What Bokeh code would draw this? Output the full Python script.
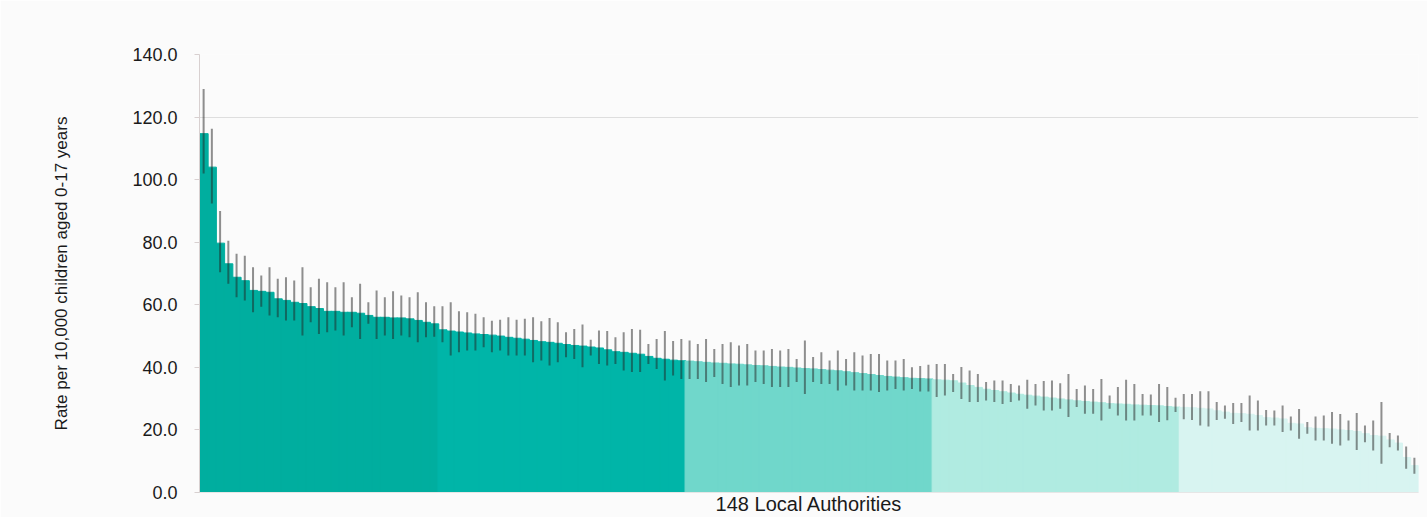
from bokeh.plotting import figure
from bokeh.models import ColumnDataSource, FixedTicker, NumeralTickFormatter, Range1d
from bokeh.embed import file_html
from bokeh.resources import INLINE

# Rate per 10,000 children aged 0-17, 148 local authorities (sorted)
rates = [
    114.7, 104.0, 79.7, 73.1, 68.8, 67.7, 64.6, 64.3, 64.0, 61.9, 61.4, 60.8, 60.4, 59.4, 58.8,
    57.9, 57.9, 57.6, 57.6, 57.3, 56.6, 56.0, 56.0, 55.8, 55.8, 55.5, 55.0, 54.4, 53.9,
    52.0, 51.6, 51.3, 51.0, 50.7, 50.5, 50.3, 50.0, 49.6, 49.3, 49.0, 48.6, 48.2, 48.0, 47.7,
    47.3, 47.0, 46.8, 46.5, 46.2, 45.6, 45.0, 44.8, 44.5, 44.2, 43.5, 42.9, 42.6, 42.3, 42.1,
    42.0, 41.8, 41.6, 41.4, 41.3, 41.1, 41.0, 40.8, 40.6, 40.5, 40.3, 40.1, 40.0, 39.8, 39.6,
    39.5, 39.3, 39.1, 38.9, 38.6, 38.3, 38.0, 37.7, 37.4, 37.1, 36.9, 36.7, 36.5, 36.4, 36.3,
    36.0, 35.9, 35.7, 35.0, 34.2, 33.6, 33.0, 32.6, 32.2, 31.8, 31.4, 31.1, 30.8, 30.5, 30.2,
    29.9, 29.6, 29.3, 29.1, 28.9, 28.7, 28.4, 28.3, 28.2, 28.0, 27.9, 27.8, 27.7, 27.5, 27.3,
    27.2, 27.1, 26.9, 26.7, 26.1, 25.7, 25.3, 25.2, 25.0, 24.6, 23.9, 23.8, 23.5, 22.1, 21.9,
    20.7, 20.5, 20.4, 20.3, 20.0, 19.8, 19.5, 18.8, 18.2, 18.0, 16.8, 15.8, 11.2, 8.6,
]
upper = [
    129.0, 116.3, 90.0, 80.5, 76.3, 75.7, 72.0, 69.4, 72.0, 68.3, 68.8, 67.8, 72.0, 65.6, 68.3,
    67.2, 65.6, 67.2, 62.4, 66.7, 60.8, 64.6, 62.4, 64.3, 63.0, 62.4, 64.0, 60.8, 59.5,
    59.5, 60.8, 57.9, 57.6, 57.1, 56.0, 54.9, 55.2, 56.0, 55.2, 55.5, 56.0, 54.7, 55.8, 54.4,
    51.2, 52.3, 53.7, 48.8, 51.8, 51.6, 49.6, 51.2, 52.3, 52.0, 47.5, 49.1, 51.6, 48.4, 49.1,
    48.6, 47.5, 49.1, 45.9, 47.5, 48.0, 47.0, 47.5, 45.4, 45.4, 45.9, 45.4, 45.9, 42.7, 48.6,
    43.3, 44.8, 42.2, 45.4, 42.7, 44.8, 43.8, 44.3, 44.3, 42.2, 42.2, 42.7, 40.0, 40.4, 40.8,
    41.1, 41.1, 37.9, 40.1, 39.0, 37.9, 35.3, 35.8, 35.8, 34.7, 34.2, 36.0, 34.7, 35.6, 35.8,
    34.9, 37.9, 33.1, 34.2, 33.1, 36.3, 31.0, 33.7, 36.0, 34.7, 31.5, 31.3, 34.7, 33.7, 30.3,
    31.5, 31.5, 32.4, 32.4, 28.9, 27.8, 28.6, 28.6, 31.0, 29.4, 26.4, 26.2, 27.8, 24.3, 26.7,
    22.5, 24.3, 24.6, 25.7, 25.1, 23.0, 25.4, 21.4, 23.0, 28.9, 19.0, 18.2, 14.7, 11.1,
]
lower = [
    102.0, 92.4, 70.4, 66.7, 62.4, 61.4, 57.6, 59.4, 56.6, 56.0, 55.0, 55.0, 50.2, 54.4, 50.7,
    51.2, 51.8, 50.2, 52.8, 49.1, 53.9, 49.1, 50.2, 49.1, 50.2, 49.6, 48.0, 49.6, 49.8,
    48.0, 43.8, 44.8, 45.4, 45.4, 46.4, 44.8, 45.4, 43.8, 43.8, 43.8, 41.6, 42.2, 40.6, 41.6,
    43.2, 42.7, 40.0, 43.8, 41.1, 40.6, 41.1, 39.0, 38.5, 38.5, 41.1, 39.5, 35.8, 37.4, 36.3,
    36.3, 36.3, 35.3, 36.9, 34.7, 33.7, 34.2, 34.2, 35.3, 34.7, 33.7, 33.7, 33.7, 35.3, 31.5,
    35.3, 34.7, 34.7, 32.6, 34.2, 32.6, 32.6, 32.6, 32.1, 32.6, 33.1, 32.6, 33.1, 32.3, 32.3,
    30.5, 31.0, 32.1, 29.9, 28.9, 28.9, 29.4, 28.9, 28.3, 28.9, 29.4, 26.8, 27.8, 26.2, 26.2,
    26.8, 24.1, 27.3, 25.2, 25.2, 23.0, 26.8, 24.6, 23.0, 23.0, 24.6, 24.6, 22.5, 23.1, 25.7,
    23.4, 23.2, 21.4, 21.1, 23.2, 23.6, 21.9, 22.5, 19.8, 19.8, 21.4, 21.4, 19.3, 19.8, 17.2,
    18.8, 16.6, 16.6, 15.6, 15.0, 16.6, 13.6, 16.1, 13.4, 9.2, 14.5, 13.4, 7.6, 6.0,
]
group_sizes = [29, 30, 30, 30, 29]
group_colors = ["#00AE9F", "#00B5A8", "#70D7CB", "#B0EBE1", "#D8F4F1"]
y_ticks = [0, 20, 40, 60, 80, 100, 120, 140]

n = len(rates)
colors = []
for size, col in zip(group_sizes, group_colors):
    colors += [col] * size
x = list(range(n))

src = ColumnDataSource(dict(x=x, rate=rates, up=upper, lo=lower, color=colors))

p = figure(width=1427, height=517, output_backend="svg", toolbar_location=None,
           x_range=Range1d(-0.5, n - 0.5), y_range=Range1d(0, 140),
           min_border_left=199, min_border_right=9, min_border_top=54, min_border_bottom=25)
p.background_fill_color = "#FBFBFB"
p.border_fill_color = "#FBFBFB"
p.outline_line_color = None

p.vbar(x="x", top="rate", width=1.1, fill_color="color", line_color="color", line_width=1, source=src)
p.segment(x0="x", y0="lo", x1="x", y1="up", line_color="#222222", line_alpha=0.5, line_width=2, source=src)

p.xgrid.visible = False
p.ygrid.ticker = FixedTicker(ticks=[120])
p.ygrid.grid_line_color = "#dedede"

p.yaxis.ticker = FixedTicker(ticks=y_ticks)
p.yaxis.formatter = NumeralTickFormatter(format="0.0")
p.yaxis.axis_label = "Rate per 10,000 children aged 0-17 years"
p.yaxis.axis_label_text_font = "Liberation Sans"
p.yaxis.axis_label_text_font_style = "normal"
p.yaxis.axis_label_text_font_size = "17px"
p.yaxis.axis_label_text_color = "#1a1a1a"
p.yaxis.axis_label_standoff = 58
p.yaxis.major_label_text_font = "Liberation Sans"
p.yaxis.major_label_text_font_size = "18px"
p.yaxis.major_label_text_color = "#1a1a1a"
p.yaxis.axis_line_color = "#d8d0d0"
p.yaxis.major_tick_line_color = "#d8d0d0"
p.yaxis.major_tick_out = 5
p.yaxis.major_tick_in = 0
p.yaxis.minor_tick_line_color = None
p.yaxis.major_label_standoff = 17

p.xaxis.ticker = FixedTicker(ticks=[])
p.xaxis.axis_label = "148 Local Authorities"
p.xaxis.axis_label_text_font = "Liberation Sans"
p.xaxis.axis_label_text_font_style = "normal"
p.xaxis.axis_label_text_font_size = "20px"
p.xaxis.axis_label_text_color = "#1a1a1a"
p.xaxis.axis_label_standoff = 0
p.xaxis.axis_line_color = "#e6e6e6"
p.xaxis.major_tick_line_color = None
p.xaxis.minor_tick_line_color = None

open("out.html", "w").write(file_html(p, INLINE))
